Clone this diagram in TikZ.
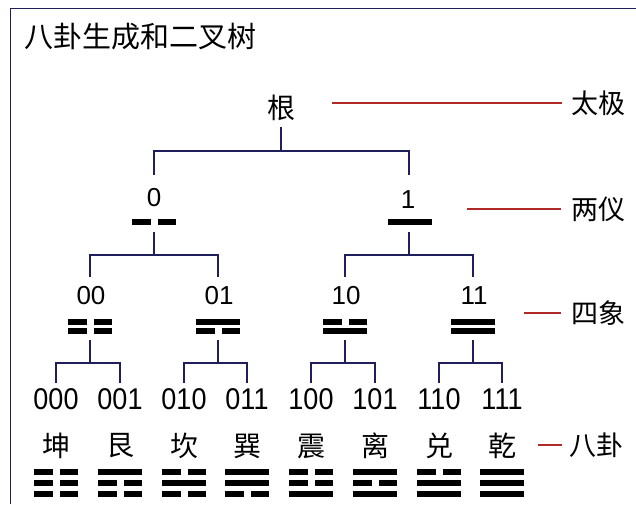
\documentclass[tikz,border=0pt]{standalone}
\usepackage{fontspec}
\newfontfamily\cjk{Noto Sans CJK SC}
\newfontfamily\digf{Liberation Sans}
\newfontfamily\digw[FakeStretch=0.9]{Liberation Sans}
\definecolor{navy}{HTML}{1F1F5E}
\definecolor{linered}{HTML}{B02A2A}
\newcommand\yaoline[3]{%
  \ifnum#3=1
    \fill (#1-22,#2-3) rectangle (#1+22,#2+3);
  \else
    \fill (#1-22,#2-3) rectangle (#1-3.5,#2+3);
    \fill (#1+3.5,#2-3) rectangle (#1+22,#2+3);
  \fi}
\begin{document}
\begin{tikzpicture}[x=1pt,y=-1pt,
  tree/.style={draw=navy, line width=1.4pt},
  redline/.style={draw=linered, line width=1.1pt},
  frameline/.style={draw=navy, line width=1.3pt},
  vtx/.style={inner sep=0pt, outer sep=0pt, minimum width=2pt},
  cjklab/.style={inner sep=0pt, font=\cjk\fontsize{28}{30}\selectfont},
  sidelab/.style={inner sep=0pt, anchor=west, font=\cjk\fontsize{27}{30}\selectfont},
  numlab/.style={inner sep=0pt, font=\digf\fontsize{26}{28}\selectfont},
  leaflab/.style={inner sep=0pt, font=\digw\fontsize{30}{32}\selectfont}]
\useasboundingbox (0,0) rectangle (636,504);
% frame
\draw[frameline] (10.5,504) -- (10.5,8.5) -- (636,8.5);
% title
\node[anchor=west, inner sep=0pt, font=\cjk\fontsize{29}{30}\selectfont] (title) at (24,37) {八卦生成和二叉树};
% root
\node[vtx, minimum height=34pt] (r) at (281,110) {};
\node[cjklab] (rl) at (281,108) {根};
% level 1
\node[vtx, minimum height=57pt] (M0) at (154,203.5) {};
\node[vtx, minimum height=57pt] (M1) at (409,203.5) {};
\node[numlab] (l0) at (154,197.5) {0};
\node[numlab] (l1) at (408,200) {1};
\yaoline{154}{221.5}{0}
\yaoline{410}{221.5}{1}
% level 2
\foreach \x/\a/\b in {90/0/0, 218/0/1, 345/1/0, 473/1/1}{
  \node[vtx, minimum height=63pt] (D\a\b) at (\x,308.5) {};
  \node[numlab] (l\a\b) at (\x+1,296) {\a\b};
  \yaoline{\x}{331}{\a}
  \yaoline{\x}{322}{\b}
}
% level 3
\foreach \x/\a/\b/\c/\n in {56/0/0/0/坤, 120/0/0/1/艮, 184/0/1/0/坎, 247/0/1/1/巽,
                            311/1/0/0/震, 375/1/0/1/离, 439/1/1/0/兑, 502/1/1/1/乾}{
  \node[vtx, minimum height=114pt] (L\a\b\c) at (\x,440) {};
  \node[leaflab] (l\a\b\c) at (\x,399) {\a\b\c};
  \node[cjklab] (n\a\b\c) at (\x,446) {\n};
  \yaoline{\x}{493.5}{\a}
  \yaoline{\x}{483}{\b}
  \yaoline{\x}{472}{\c}
}
% tree connectors
\draw[tree] (r.south) -- ++(0,24) coordinate (rb);
\draw[tree] (M0.north) |- (rb) -| (M1.north);
\draw[tree] (M0.south) -- ++(0,23) coordinate (m0b);
\draw[tree] (D00.north) |- (m0b) -| (D01.north);
\draw[tree] (M1.south) -- ++(0,23) coordinate (m1b);
\draw[tree] (D10.north) |- (m1b) -| (D11.north);
\draw[tree] (D00.south) -- ++(0,23) coordinate (d00b);
\draw[tree] (L000.north) |- (d00b) -| (L001.north);
\draw[tree] (D01.south) -- ++(0,23) coordinate (d01b);
\draw[tree] (L010.north) |- (d01b) -| (L011.north);
\draw[tree] (D10.south) -- ++(0,23) coordinate (d10b);
\draw[tree] (L100.north) |- (d10b) -| (L101.north);
\draw[tree] (D11.south) -- ++(0,23) coordinate (d11b);
\draw[tree] (L110.north) |- (d11b) -| (L111.north);
% side labels
\node[sidelab] (s1) at (571,103) {太极};
\node[sidelab] (s2) at (571,209) {两仪};
\node[sidelab] (s3) at (571,313) {四象};
\node[sidelab] (s4) at (569,445) {八卦};
\coordinate (e1) at (332,103);
\coordinate (e2) at (467,209);
\coordinate (e3) at (524,313);
\coordinate (e4) at (538,445);
\draw[redline] (e1) -- ([xshift=-9pt]s1.west);
\draw[redline] (e2) -- ([xshift=-10pt]s2.west);
\draw[redline] (e3) -- ([xshift=-10pt]s3.west);
\draw[redline] (e4) -- ([xshift=-7pt]s4.west);
\end{tikzpicture}
\end{document}
